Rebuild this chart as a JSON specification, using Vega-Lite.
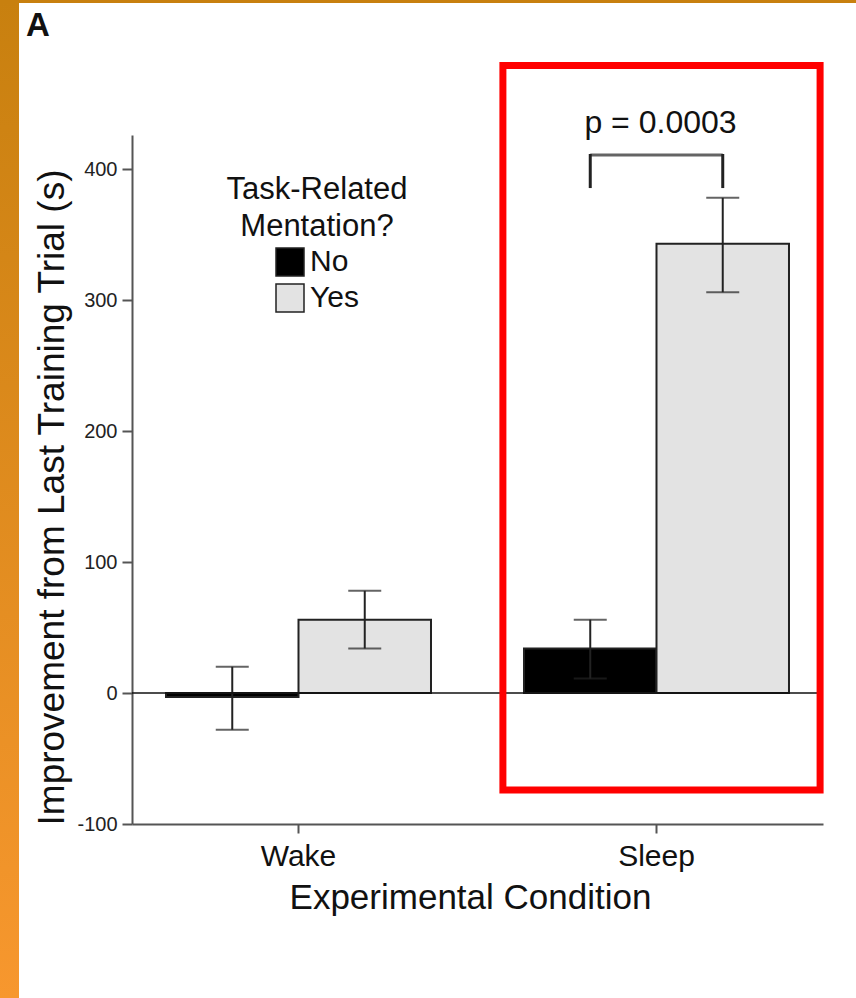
{
  "$schema": "https://vega.github.io/schema/vega-lite/v6.json",
  "width": 691,
  "height": 689,
  "autosize": {"type": "none"},
  "padding": {"left": 132, "top": 135, "right": 33, "bottom": 174},
  "background": "white",
  "config": {"font": "Liberation Sans", "view": {"stroke": null}},
  "datasets": {
    "bars": [
      {"cond": "Wake", "group": "No", "value": -3, "lo": -28, "hi": 20},
      {"cond": "Wake", "group": "Yes", "value": 56, "lo": 34, "hi": 78},
      {"cond": "Sleep", "group": "No", "value": 34, "lo": 11, "hi": 56},
      {"cond": "Sleep", "group": "Yes", "value": 343, "lo": 306, "hi": 378}
    ],
    "bracket": [{"group": "No"}, {"group": "Yes"}],
    "one": [{"label": "p = 0.0003", "panel": "A"}]
  },
  "layer": [
    {
      "data": {"name": "one"},
      "mark": {"type": "rect", "color": {"gradient": "linear", "x1": 0, "y1": 0, "x2": 0, "y2": 1, "stops": [{"offset": 0, "color": "#C8800F"}, {"offset": 1, "color": "#F7972E"}]}},
      "encoding": {"x": {"value": -132}, "x2": {"value": -113}, "y": {"value": -135}, "y2": {"value": 863}}
    },
    {
      "data": {"name": "one"},
      "mark": {"type": "rect", "color": "#C8800F"},
      "encoding": {"x": {"value": -132}, "x2": {"value": 724}, "y": {"value": -135}, "y2": {"value": -132}}
    },
    {
      "data": {"name": "bars"},
      "mark": {"type": "bar", "stroke": "#222", "strokeWidth": 2},
      "encoding": {
        "x": {"field": "cond", "type": "nominal", "sort": ["Wake", "Sleep"],
          "scale": {"domain": ["Wake", "Sleep"], "paddingInner": 0.2598, "paddingOuter": 0.095},
          "axis": {"title": "Experimental Condition", "labelAngle": 0, "labelFontSize": 30, "labelColor": "#111", "labelBaseline": "alphabetic", "labelPadding": 32,
            "tickSize": 9, "tickColor": "#555", "tickWidth": 2, "domainColor": "#555", "domainWidth": 2,
            "titleFontSize": 35, "titleFontWeight": "normal", "titleColor": "#111", "titleBaseline": "alphabetic", "titleAlign": "center", "titleX": 338, "titleY": 84}},
        "xOffset": {"field": "group", "type": "nominal", "scale": {"domain": ["No", "Yes"], "paddingInner": 0, "paddingOuter": 0}},
        "y": {"field": "value", "type": "quantitative",
          "scale": {"domain": [-100, 426], "nice": false, "zero": false},
          "axis": {"title": "Improvement from Last Training Trial (s)", "values": [-100, 0, 100, 200, 300, 400], "grid": false,
            "labelExpr": "'' + datum.value",
            "labelFontSize": 20, "labelColor": "#222", "labelPadding": 5, "tickSize": 10, "tickColor": "#555", "tickWidth": 2,
            "domainColor": "#555", "domainWidth": 2,
            "titleFontSize": 37, "titleFontWeight": "normal", "titleColor": "#111", "titleBaseline": "alphabetic", "titleAlign": "center", "titleAngle": -90, "titleX": -69, "titleY": 362}},
        "fill": {"field": "group", "type": "nominal", "scale": {"domain": ["No", "Yes"], "range": ["#000000", "#E3E3E3"]},
          "legend": {"orient": "none", "legendX": 95, "legendY": 40, "title": ["Task-Related", "Mentation?"],
            "titleFontSize": 31, "titleFontWeight": "normal", "titleColor": "#111", "titleLineHeight": 37, "titleAnchor": "middle", "titleAlign": "center", "titlePadding": 4, "titleLimit": 500,
            "labelFontSize": 30, "labelColor": "#111", "labelOffset": 5, "symbolType": "square", "symbolSize": 784, "symbolStrokeColor": "#222", "symbolStrokeWidth": 1.5, "rowPadding": 2, "padding": 0}}
      }
    },
    {
      "data": {"name": "bars"},
      "mark": {"type": "rule", "color": "#222", "strokeWidth": 2},
      "encoding": {
        "x": {"field": "cond", "type": "nominal"},
        "xOffset": {"field": "group", "type": "nominal"},
        "y": {"field": "lo", "type": "quantitative"},
        "y2": {"field": "hi"}
      }
    },
    {
      "data": {"name": "bars"},
      "mark": {"type": "tick", "color": "#222", "size": 33, "thickness": 2, "orient": "horizontal"},
      "encoding": {
        "x": {"field": "cond", "type": "nominal"},
        "xOffset": {"field": "group", "type": "nominal"},
        "y": {"field": "lo", "type": "quantitative"}
      }
    },
    {
      "data": {"name": "bars"},
      "mark": {"type": "tick", "color": "#222", "size": 33, "thickness": 2, "orient": "horizontal"},
      "encoding": {
        "x": {"field": "cond", "type": "nominal"},
        "xOffset": {"field": "group", "type": "nominal"},
        "y": {"field": "hi", "type": "quantitative"}
      }
    },
    {
      "data": {"name": "one"},
      "mark": {"type": "rule", "color": "#111", "strokeWidth": 1.5},
      "encoding": {"y": {"datum": 0}}
    },
    {
      "data": {"name": "bracket"},
      "mark": {"type": "rule", "color": "#222", "strokeWidth": 3},
      "encoding": {
        "x": {"datum": "Sleep"},
        "xOffset": {"field": "group", "type": "nominal"},
        "y": {"datum": 385.5},
        "y2": {"datum": 411.5}
      }
    },
    {
      "data": {"name": "one"},
      "mark": {"type": "tick", "color": "#222", "size": 132.5, "thickness": 3, "orient": "horizontal"},
      "encoding": {"x": {"datum": "Sleep"}, "y": {"datum": 410.7}}
    },
    {
      "data": {"name": "one"},
      "mark": {"type": "text", "fontSize": 32, "color": "#111", "baseline": "alphabetic", "align": "center", "dx": 4},
      "encoding": {"x": {"datum": "Sleep"}, "y": {"datum": 427.5}, "text": {"field": "label"}}
    },
    {
      "data": {"name": "one"},
      "mark": {"type": "text", "fontSize": 33, "fontWeight": "bold", "color": "#111", "baseline": "alphabetic", "align": "left"},
      "encoding": {"x": {"value": -106}, "y": {"datum": 501.5}, "text": {"field": "panel"}}
    },
    {
      "data": {"name": "one"},
      "mark": {"type": "bar", "filled": false, "stroke": "#FF0000", "strokeWidth": 7, "width": {"band": 1.197}, "xOffset": 5},
      "encoding": {"x": {"datum": "Sleep"}, "y": {"datum": 479}, "y2": {"datum": -74}}
    }
  ]
}
